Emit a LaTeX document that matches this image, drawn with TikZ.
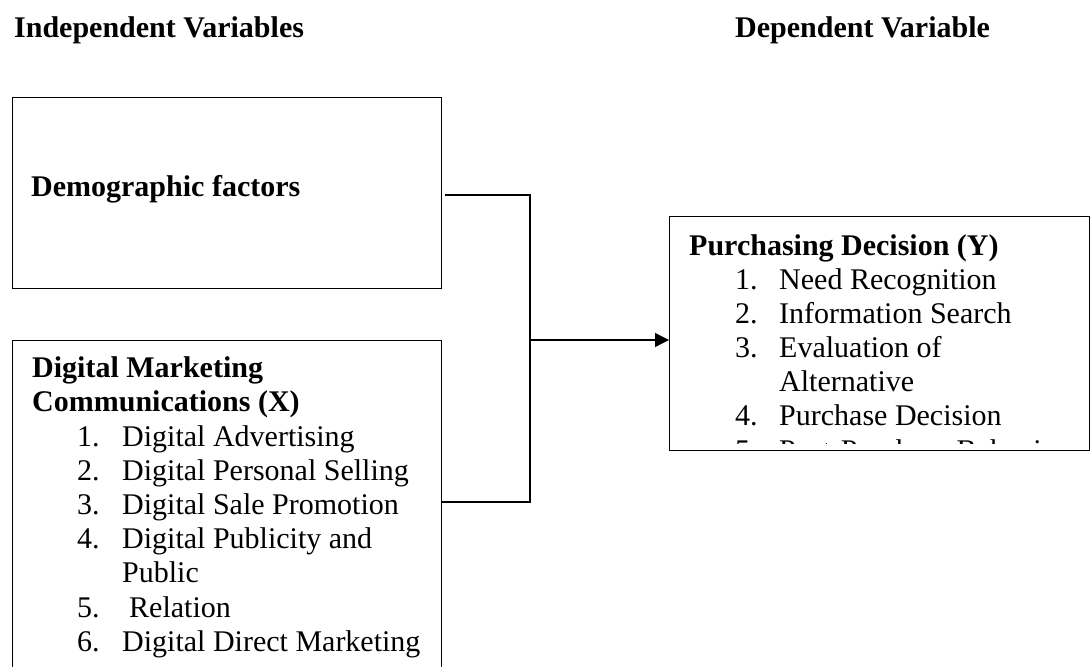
\documentclass[tikz,border=0pt]{standalone}
\usepackage{fontspec}
\setmainfont{Liberation Serif}
\usetikzlibrary{arrows.meta,calc}
\tikzset{
  box/.style={draw, line width=1.4pt, rectangle, anchor=north west, inner sep=0pt},
  txt/.style={anchor=base west, inner sep=0pt, font=\fontsize{30}{34}\selectfont},
  btxt/.style={anchor=base west, inner sep=0pt, font=\fontsize{30}{34}\selectfont\bfseries},
  conn/.style={line width=1.3pt},
}
\begin{document}
\begin{tikzpicture}[x=1pt,y=1pt]
\useasboundingbox (0,0) rectangle (1091,-666);
\clip (0,0) rectangle (1091,-666);
% headers
\node[btxt] (h1) at (14,-38) {Independent Variables};
\node[btxt] (h2) at (735,-38) {Dependent Variable};
% demographic box
\node[box, minimum width=429pt, minimum height=191pt] (demo) at (12,-97) {};
\node[btxt] (demot) at (31,-196) {Demographic factors};
% digital marketing box
\node[box, minimum width=429pt, minimum height=400pt] (dmc) at (12,-340) {};
\node[btxt] (d0a) at (32,-377) {Digital Marketing};
\node[btxt] (d0b) at (32,-411.5) {Communications (X)};
\node[txt] (n1) at (77,-446) {1.};
\node[txt] (t1) at (122,-446) {Digital Advertising};
\node[txt] (n2) at (77,-480) {2.};
\node[txt] (t2) at (122,-480) {Digital Personal Selling};
\node[txt] (n3) at (77,-514) {3.};
\node[txt] (t3) at (122,-514) {Digital Sale Promotion};
\node[txt] (n4) at (77,-548) {4.};
\node[txt] (t4) at (122,-548) {Digital Publicity and};
\node[txt] (t4b) at (122,-582.5) {Public};
\node[txt] (n5) at (77,-617) {5.};
\node[txt] (t5) at (129,-617) {Relation};
\node[txt] (n6) at (77,-651) {6.};
\node[txt] (t6) at (122,-651) {Digital Direct Marketing};
% purchasing decision box
\node[box, minimum width=420pt, minimum height=234pt] (pd) at (669,-216) {};
\begin{scope}
\clip (669,-216) rectangle (1089,-443);
\node[btxt] (p0) at (689,-255) {Purchasing Decision (Y)};
\node[txt] (m1) at (735,-289) {1.};
\node[txt] (s1) at (779,-289) {Need Recognition};
\node[txt] (m2) at (735,-323) {2.};
\node[txt] (s2) at (779,-323) {Information Search};
\node[txt] (m3) at (735,-357) {3.};
\node[txt] (s3) at (779,-357) {Evaluation of};
\node[txt] (s3b) at (779,-391) {Alternative};
\node[txt] (m4) at (735,-425) {4.};
\node[txt] (s4) at (779,-425) {Purchase Decision};
\node[txt] (m5) at (735,-460) {5.};
\node[txt] (s5) at (779,-460) {Post-Purchase Behavior};
\end{scope}
% connectors
\coordinate (j) at (530,-340);
\coordinate (dmcout) at ($(dmc.north east)+(0,-162)$);
\coordinate (demoout) at ($(demo.north east)+(3,-98)$);
\draw[conn] (demoout) -| (j);
\draw[conn] (dmcout) -| (j);
\draw[conn,-{Triangle[length=14pt,width=14pt]}] (j) -- (pd.west |- j);
\end{tikzpicture}
\end{document}
